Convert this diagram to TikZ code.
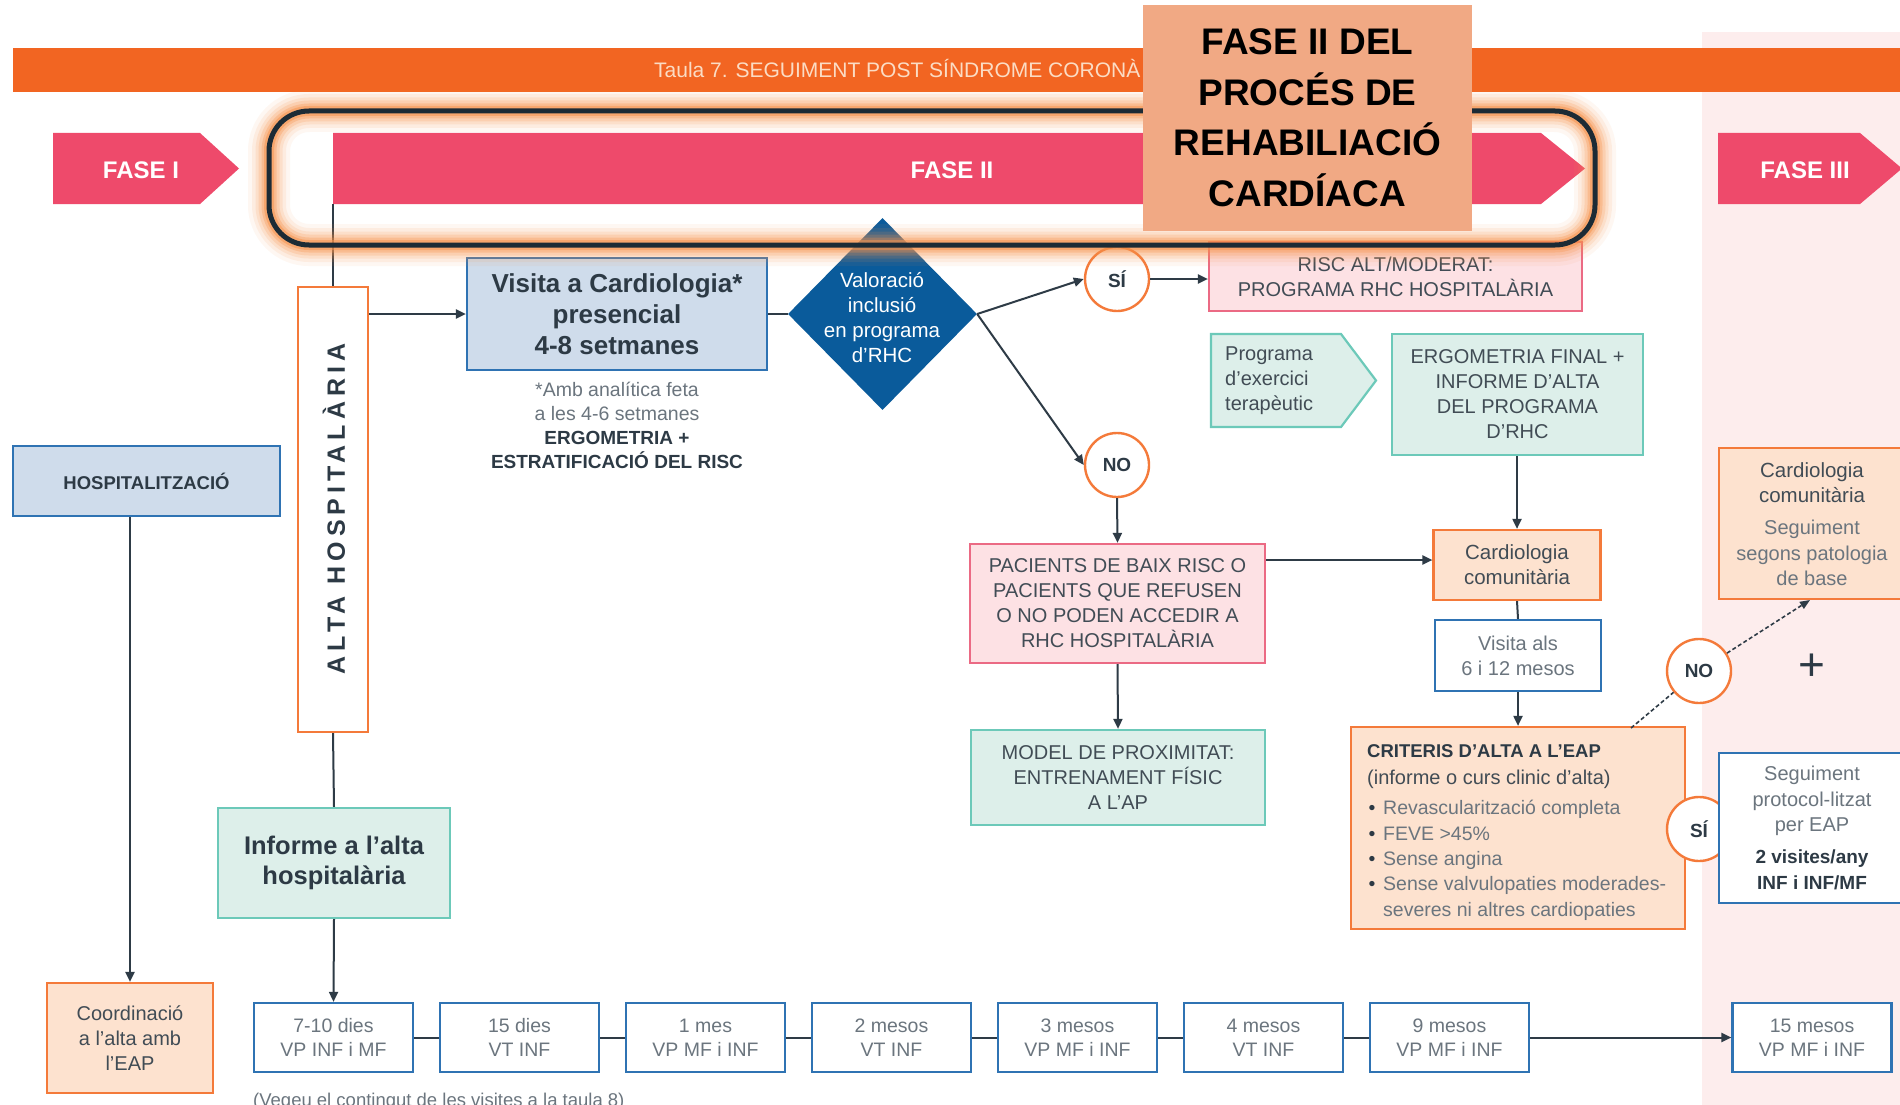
\documentclass[tikz,border=0pt]{standalone}
\usepackage{fontspec}
\setmainfont{Liberation Sans}
\newfontfamily\spacedfont{Liberation Sans}[LetterSpace=20]
\usetikzlibrary{arrows.meta,shapes.geometric}

\definecolor{barorange}{HTML}{F26522}
\definecolor{bartext}{HTML}{FBDCC4}
\definecolor{fasepink}{HTML}{EE4A6B}
\definecolor{ink}{HTML}{2D3A45}
\definecolor{inkmid}{HTML}{414C55}
\definecolor{inklight}{HTML}{6B757E}
\definecolor{bluefill}{HTML}{CFDCEB}
\definecolor{blueline}{HTML}{2F73B3}
\definecolor{tealfill}{HTML}{DDEFEA}
\definecolor{tealline}{HTML}{6CC9B9}
\definecolor{pinkfill}{HTML}{FDE1E4}
\definecolor{pinkline}{HTML}{EB6A84}
\definecolor{peachfill}{HTML}{FDE2CF}
\definecolor{orangeline}{HTML}{F47A3A}
\definecolor{diablue}{HTML}{0A5B9B}
\definecolor{panelpink}{HTML}{FDEDED}
\definecolor{titlepeach}{HTML}{F1A984}
\definecolor{frameink}{HTML}{1C2B35}
\definecolor{glowcol}{HTML}{F7924A}
\definecolor{conn}{HTML}{2E3B46}

\newcommand\fs[2]{\fontsize{#1}{#2}\selectfont}

\tikzset{
  base box/.style={draw, line width=2.2pt, inner sep=0pt, align=center, text=inkmid, font=\fs{20}{25}},
  bluebox/.style={base box, fill=bluefill, draw=blueline},
  tealbox/.style={base box, fill=tealfill, draw=tealline},
  pinkbox/.style={base box, fill=pinkfill, draw=pinkline},
  peachbox/.style={base box, fill=peachfill, draw=orangeline},
  whitebox/.style={base box, fill=white, draw=blueline, text=inklight},
  visitbox/.style={whitebox, font=\fs{19.5}{24}, minimum width=159pt, minimum height=69pt},
  choice/.style={circle, draw=orangeline, line width=2.4pt, fill=white, minimum size=64pt, inner sep=0pt, text=ink, font=\bfseries\fs{19}{22}},
  link/.style={draw=conn, line width=2pt},
  arrowlink/.style={link, -{Triangle[length=10pt,width=9pt]}},
  dashlink/.style={draw=conn, line width=1.6pt, dash pattern=on 4pt off 2.5pt},
  phasetext/.style={text=white, font=\bfseries\fs{24}{28}},
}

\begin{document}
\begin{tikzpicture}[x=1pt,y=-1pt]
\useasboundingbox (0,0) rectangle (1900,1105);
\clip (0,0) rectangle (1900,1105);
\fill[white] (0,0) rectangle (1900,1105);

% phase III background panel
\fill[panelpink] (1702,32) rectangle (1900,1105);

% table heading bar
\fill[barorange] (13,48) rectangle (1900,92);
\node[anchor=base west, text=bartext, font=\fs{21}{24}, inner sep=0pt] (tabletitle) at (654,77.5) {Taula 7. SEGUIMENT POST SÍNDROME CORONÀ};

% phase arrows
\fill[fasepink] (53,133) -- (200,133) -- (239,168.5) -- (200,204) -- (53,204) -- cycle;
\node[phasetext] (fase1) at (141,170) {FASE I};
\fill[fasepink] (333,133) -- (1541,133) -- (1585,168.5) -- (1541,204) -- (333,204) -- cycle;
\node[phasetext] (fase2) at (952,170) {FASE II};
\fill[fasepink] (1718,133) -- (1860,133) -- (1902,168.5) -- (1860,204) -- (1718,204) -- cycle;
\node[phasetext] (fase3) at (1805,170) {FASE III};
\coordinate (fase2corner) at (333,204);

% left column
\node[bluebox, text=ink, font=\bfseries\fs{18.5}{22}, minimum width=267pt, minimum height=70pt] (hosp) at (146.5,481) {HOSPITALITZACIÓ};
\node[peachbox, minimum width=166pt, minimum height=110pt] (coord) at (130,1038) {Coordinació\\a l’alta amb\\l’EAP};

\node[base box, draw=orangeline, fill=white, minimum width=70pt, minimum height=445pt] (alta) at (333,509.5) {};
\node[rotate=90, text=ink, font=\spacedfont\bfseries\fs{25}{28}] (altatxt) at (334,509) {ALTA HOSPITALÀRIA};

\node[tealbox, text=ink, font=\bfseries\fs{25.5}{30}, minimum width=232pt, minimum height=110pt] (inf) at (334,863) {Informe a l’alta\\hospitalària};

% cardiology visit and decision
\node[bluebox, text=ink, font=\bfseries\fs{26}{31}, minimum width=300pt, minimum height=112pt] (visita) at (617,314) {Visita a Cardiologia*\\presencial\\4-8 setmanes};
\node[text=inklight, font=\fs{19.5}{24}, align=center, inner sep=0pt] (note) at (617,401.5) {*Amb analítica feta\\a les 4-6 setmanes};
\node[text=ink, font=\bfseries\fs{19}{24.5}, align=center, inner sep=0pt] (ergoinit) at (617,450) {ERGOMETRIA +\\ESTRATIFICACIÓ DEL RISC};

\node[diamond, fill=diablue, minimum width=189pt, minimum height=192pt, inner sep=0pt] (dia) at (882.5,314) {};
\node[text=white, font=\fs{20.5}{25}, align=center, inner sep=0pt] (diatxt) at (882,318) {Valoració\\inclusió\\en programa\\d’RHC};

\node[choice] (si1) at (1117,279) {SÍ};
\node[choice] (no1) at (1117,465) {NO};

\node[pinkbox, minimum width=373pt, minimum height=69pt] (risc) at (1395.5,276.5) {RISC ALT/MODERAT:\\PROGRAMA RHC HOSPITALÀRIA};
\node[pinkbox, minimum width=295pt, minimum height=119pt] (pac) at (1117.5,603.5) {PACIENTS DE BAIX RISC O\\PACIENTS QUE REFUSEN\\O NO PODEN ACCEDIR A\\RHC HOSPITALÀRIA};
\node[tealbox, minimum width=294pt, minimum height=95pt] (model) at (1118,777.5) {MODEL DE PROXIMITAT:\\ENTRENAMENT FÍSIC\\A L’AP};

% hospital rehabilitation programme
\draw[fill=tealfill, draw=tealline, line width=2.2pt] (1211,334) -- (1341,334) -- (1376,380.5) -- (1341,427) -- (1211,427) -- cycle;
\node[anchor=west, text=inkmid, font=\fs{20}{25}, align=left, inner sep=0pt] (prog) at (1225,381) {Programa\\d’exercici\\terapèutic};
\node[tealbox, minimum width=251pt, minimum height=121pt] (ergo) at (1517.5,394.5) {ERGOMETRIA FINAL +\\INFORME D’ALTA\\DEL PROGRAMA\\D’RHC};

\node[peachbox, text=inkmid, font=\fs{20.5}{25}, minimum width=167pt, minimum height=70pt] (ccm) at (1517,565) {Cardiologia\\comunitària};
\node[whitebox, minimum width=166pt, minimum height=71pt] (vis) at (1518,655.5) {Visita als\\6 i 12 mesos};
\node[peachbox, minimum width=334pt, minimum height=202pt] (crit) at (1518,828) {};
\node[anchor=base west, text=ink, font=\bfseries\fs{18.5}{22}, inner sep=0pt] (crith) at (1367,757) {CRITERIS D’ALTA A L’EAP};
\node[anchor=base west, text=inkmid, font=\fs{20}{22}, inner sep=0pt] (crits) at (1367,784) {(informe o curs clinic d’alta)};
\foreach \yy/\txt [count=\i] in {814/Revascularització completa, 840/FEVE >45\%, 865/Sense angina, 890/Sense valvulopaties moderades-}{
  \node[anchor=base west, text=inklight, font=\fs{19.5}{22}, inner sep=0pt] (crit\i) at (1383,\yy) {\txt};
  \node[anchor=base, text=ink, font=\fs{19.5}{22}, inner sep=0pt] (bul\i) at (1372,\yy) {•};
}
\node[anchor=base west, text=inklight, font=\fs{19.5}{22}, inner sep=0pt] (crit5) at (1383,916) {severes ni altres cardiopaties};

% follow-up outcomes
\node[choice] (no2) at (1699,671) {NO};
\node[choice] (si2) at (1699,829) {SÍ};
\node[text=ink, font=\fs{46}{46}, inner sep=0pt] (plus) at (1812,667) {+};

\node[peachbox, minimum width=186pt, minimum height=151pt] (cc2) at (1812,523.5) {};
\node[text=inkmid, font=\fs{20.5}{25}, align=center, inner sep=0pt] (cc2a) at (1812,483) {Cardiologia\\comunitària};
\node[text=inklight, font=\fs{20}{25.5}, align=center, inner sep=0pt] (cc2b) at (1812,553) {Seguiment\\segons patologia\\de base};

\node[whitebox, minimum width=186pt, minimum height=150pt] (seg) at (1812,828) {};
\node[text=inklight, font=\fs{20}{25.5}, align=center, inner sep=0pt] (sega) at (1812,801) {Seguiment\\protocol-litzat\\per EAP};
\node[text=ink, font=\bfseries\fs{19}{25.5}, align=center, inner sep=0pt] (segb) at (1812,870) {2 visites/any\\INF i INF/MF};

% visit timeline
\node[visitbox] (b1) at (333.5,1037.5) {7-10 dies\\VP INF i MF};
\node[visitbox] (b2) at (519.5,1037.5) {15 dies\\VT INF};
\node[visitbox] (b3) at (705.5,1037.5) {1 mes\\VP MF i INF};
\node[visitbox] (b4) at (891.5,1037.5) {2 mesos\\VT INF};
\node[visitbox] (b5) at (1077.5,1037.5) {3 mesos\\VP MF i INF};
\node[visitbox] (b6) at (1263.5,1037.5) {4 mesos\\VT INF};
\node[visitbox] (b7) at (1449.5,1037.5) {9 mesos\\VP MF i INF};
\node[visitbox] (b8) at (1812,1037.5) {15 mesos\\VP MF i INF};
\node[anchor=base west, text=inklight, font=\fs{18.5}{20}, inner sep=0pt] (footnote) at (253,1106) {(Vegeu el contingut de les visites a la taula 8)};

% connectors
\draw[link] (fase2corner) -- (alta.north);
\draw[arrowlink] (visita.west -| alta.east) -- (visita.west);
\draw[link] (visita.east) -- (dia.west);
\draw[arrowlink] (dia.east) -- (si1.west);
\draw[arrowlink] (dia.east) -- (no1.west);
\draw[arrowlink] (si1.east) -- (si1.east -| risc.west);
\draw[arrowlink] (no1.south) -- (pac.north);
\draw[arrowlink] (pac.south) -- (model.north);
\draw[arrowlink] ([yshift=5pt]ccm.west -| pac.east) -- ([yshift=5pt]ccm.west);
\draw[arrowlink] (ccm.north |- ergo.south) -- (ccm.north);
\draw[link] (ccm.south) -- (vis.north);
\draw[arrowlink] (vis.south) -- (crit.north);
\coordinate (critdash) at (1631,728);
\draw[dashlink] (critdash) -- (no2);
\draw[dashlink, -{Triangle[length=10pt,width=8pt]}] (no2) -- (1810,600);
\draw[link] (alta.south) -- (inf.north);
\draw[arrowlink] (inf.south) -- (b1.north);
\draw[arrowlink] (coord.north |- hosp.south) -- (coord.north);
\foreach \a/\b in {b1/b2,b2/b3,b3/b4,b4/b5,b5/b6,b6/b7}
  \draw[link] (\a.east) -- (\b.west);
\draw[arrowlink] (b7.east) -- (b8.west);

% highlighted phase II frame with soft glow
\foreach \w/\o in {42/0.07,34/0.1,27/0.14,21/0.2,15/0.3,10/0.5}
  \draw[glowcol, line width=\w pt, opacity=\o, rounded corners=40pt] (269,111) rectangle (1595,245);
\draw[frameink, line width=5pt, rounded corners=40pt] (269,111) rectangle (1595,245);

% title card
\node[fill=titlepeach, minimum width=329pt, minimum height=226pt, inner sep=0pt, text=black, align=center, font=\bfseries\fs{37}{50.5}] (title) at (1307.5,118) {FASE II DEL\\PROCÉS DE\\REHABILIACIÓ\\CARDÍACA};
\end{tikzpicture}
\end{document}
